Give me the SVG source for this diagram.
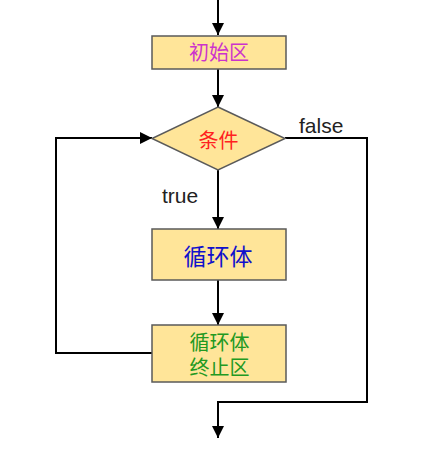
<svg xmlns="http://www.w3.org/2000/svg" width="438" height="449" viewBox="0 0 438 449">
<defs>
<marker id="arr" markerWidth="12" markerHeight="12" refX="12" refY="6" orient="auto" markerUnits="userSpaceOnUse">
<path d="M0,0 L12,6 L0,12 Z" fill="#000"/>
</marker>
<style>
.box{fill:#FFE599;stroke:#5a5a5a;stroke-width:1.5}
.cn{font-family:"Liberation Sans","Noto Sans CJK SC",sans-serif;text-anchor:middle}
.en{font-family:"Liberation Sans",Arial,sans-serif;font-size:21px;fill:#222}
.ln{fill:none;stroke:#000;stroke-width:2}
</style>
</defs>
<rect width="438" height="449" fill="#fff"/>
<g id="connectors">
<path class="ln" d="M218,0 V35" marker-end="url(#arr)"/>
<path class="ln" d="M218,69 V107" marker-end="url(#arr)"/>
<path class="ln" d="M218,170 V229" marker-end="url(#arr)"/>
<path class="ln" d="M218,280 V325" marker-end="url(#arr)"/>
<path class="ln" d="M152,353 H56 V138 H152" marker-end="url(#arr)"/>
<path class="ln" d="M285,138 H367 V402 H218 V438" marker-end="url(#arr)"/>
<text class="en" x="162" y="203">true</text>
<text class="en" x="299" y="133">false</text>
</g>
<g id="init">
<rect class="box" x="152" y="36" width="134" height="33"/>
<text class="cn" x="219" y="59.5" font-size="20" fill="#CC33CC">初始区</text>
</g>
<g id="cond">
<path class="box" d="M218,107 L285,138.5 L218,170 L152,138.5 Z"/>
<text class="cn" x="218.5" y="148" font-size="20" fill="#FF2020">条件</text>
</g>
<g id="body">
<rect class="box" x="152" y="229" width="134" height="51"/>
<text class="cn" x="218" y="265" font-size="23" fill="#1010CC">循环体</text>
</g>
<g id="term">
<rect class="box" x="152" y="325" width="134" height="57"/>
<text class="cn" x="219.5" y="350" font-size="20" fill="#229922">循环体</text>
<text class="cn" x="219.5" y="375" font-size="20" fill="#229922">终止区</text>
</g>
</svg>
